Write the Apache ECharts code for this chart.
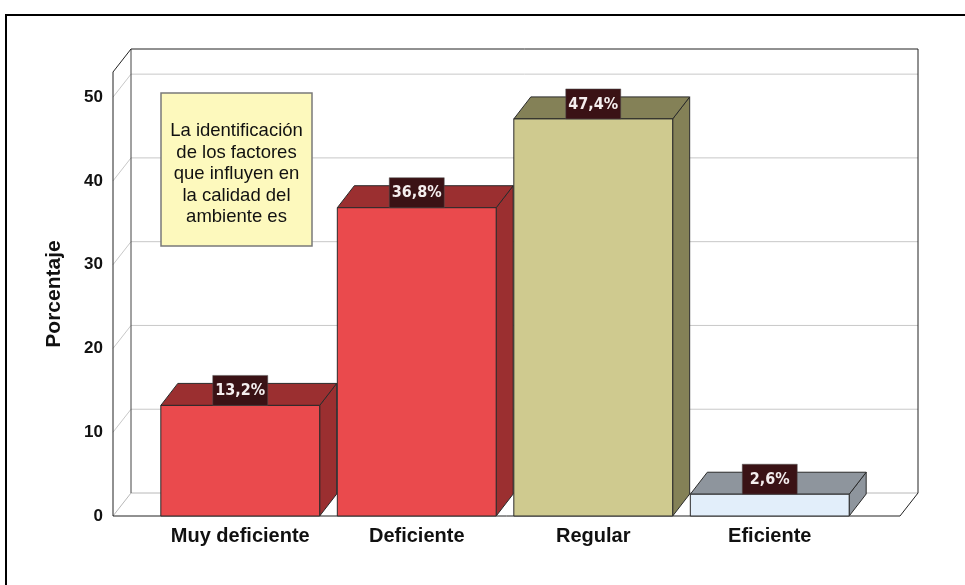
<!DOCTYPE html>
<html>
<head>
<meta charset="utf-8">
<script src="https://cdn.jsdelivr.net/npm/echarts@6/dist/echarts.min.js"></script>
<style>
  html, body { margin: 0; padding: 0; background: #fff; }
  #chart { width: 965px; height: 585px; }
</style>
</head>
<body>
<div id="chart"></div>
<script>
// datos
const categories = ['Muy deficiente', 'Deficiente', 'Regular', 'Eficiente'];
const percentages = [13.2, 36.8, 47.4, 2.6];
const yTicks = [0, 10, 20, 30, 40, 50];
const frontColors = ['#ea4a4d', '#ea4a4d', '#cfca8f', '#e2eefa'];
const shadeColors = ['#9b2f30', '#9b2f30', '#848157', '#8e959d'];
const boxText = 'La identificación\nde los factores\nque influyen en\nla calidad del\nambiente es';

const chart = echarts.init(document.getElementById('chart'));

const FONT = 'Liberation Sans, Arial, sans-serif';
const NARROW = "'Liberation Sans Narrow', 'DejaVu Sans Condensed', 'Arial Narrow', sans-serif";
// desplazamiento 3D
const bdx = 17, bdy = -22;   // barras
const fdx = 18, fdy = -23;   // paredes

function renderFrame(params, api) {
  const cs = params.coordSys;
  const left = cs.x - 39, right = cs.x + cs.width + 42;
  const yBase = api.coord([0, 0])[1];
  const yTop = cs.y;
  const ch = [];
  const line = (x1, y1, x2, y2, color, w) => ch.push({
    type: 'line', shape: { x1, y1, x2, y2 },
    style: { stroke: color, lineWidth: w || 1 }
  });
  // gridlines on back wall + left wall
  yTicks.forEach(v => {
    if (v === 0) return;
    const y = api.coord([0, v])[1];
    line(left, y, left + fdx, y + fdy, '#c8c8c8');
    line(left + fdx, y + fdy, right + fdx, y + fdy, '#c8c8c8');
  });
  // back floor
  line(left + fdx, yBase + fdy, right + fdx, yBase + fdy, '#b8b8b8');
  line(left, yBase, left + fdx, yBase + fdy, '#b8b8b8');
  // back wall edges
  line(left + fdx, yTop + fdy, right + fdx, yTop + fdy, '#222');
  line(right + fdx, yTop + fdy, right + fdx, yBase + fdy, '#222');
  line(left + fdx, yTop + fdy, left + fdx, yBase + fdy, '#444');
  // left wall front edge
  line(left, yTop, left, yBase, '#222');
  line(left, yTop, left + fdx, yTop + fdy, '#222');
  // front floor
  line(left, yBase, right, yBase, '#222');
  line(right, yBase, right + fdx, yBase + fdy, '#222');
  return { type: 'group', children: ch };
}

function renderBar(params, api) {
  const idx = params.dataIndex;
  const cat = api.value(0), val = api.value(1);
  const base = api.coord([cat, 0]);
  const top = api.coord([cat, val]);
  const w = api.size([1, 0])[0] * 0.9;
  const x0 = top[0] - w / 2, x1 = top[0] + w / 2;
  const y0 = top[1], yb = base[1];
  const edge = { stroke: '#2a2a2a', lineWidth: 1 };
  const label = val.toFixed(1).replace('.', ',') + '%';
  return {
    type: 'group',
    children: [
      { type: 'polygon', shape: { points: [[x1, y0], [x1 + bdx, y0 + bdy], [x1 + bdx, yb + bdy], [x1, yb]] },
        style: Object.assign({ fill: shadeColors[idx] }, edge) },
      { type: 'polygon', shape: { points: [[x0, y0], [x0 + bdx, y0 + bdy], [x1 + bdx, y0 + bdy], [x1, y0]] },
        style: Object.assign({ fill: shadeColors[idx] }, edge) },
      { type: 'rect', shape: { x: x0, y: y0, width: w, height: yb - y0 },
        style: Object.assign({ fill: frontColors[idx] }, edge) },
      { type: 'rect', shape: { x: top[0] - 27.5, y: y0 - 30, width: 55, height: 30 },
        style: { fill: '#3a1215', stroke: '#555', lineWidth: 0.5 } },
      { type: 'text', x: top[0], y: y0 - 14.5,
        style: { text: label, fill: '#f4eeee', font: 'bold 16px ' + NARROW, align: 'center', verticalAlign: 'middle' } }
    ]
  };
}

const option = {
  animation: false,
  backgroundColor: '#fff',
  grid: { left: 152, top: 72, width: 706, bottom: 69 },
  xAxis: {
    type: 'category',
    data: categories,
    axisLine: { show: false },
    axisTick: { show: false },
    axisLabel: { interval: 0, hideOverlap: false, color: '#111', fontFamily: FONT, fontWeight: 'bold', fontSize: 20, margin: 10 }
  },
  yAxis: {
    type: 'value',
    min: 0,
    max: 53,
    interval: 10,
    name: 'Porcentaje',
    nameLocation: 'middle',
    nameGap: 87,
    nameRotate: 90,
    nameTextStyle: { color: '#111', fontFamily: FONT, fontWeight: 'bold', fontSize: 21 },
    axisLine: { show: false },
    axisTick: { show: false },
    splitLine: { show: false },
    axisLabel: {
      color: '#111', fontFamily: FONT, fontWeight: 'bold', fontSize: 17, margin: 49,
      showMaxLabel: false,
      formatter: v => (yTicks.indexOf(v) >= 0 ? String(v) : '')
    }
  },
  graphic: [
    { type: 'rect', shape: { x: 6, y: 15, width: 1000, height: 1000 },
      style: { fill: 'none', stroke: '#000', lineWidth: 2 }, z: 100 },
    { type: 'rect', shape: { x: 161, y: 93, width: 151, height: 153 },
      style: { fill: '#fdf9bd', stroke: '#7a7a7a', lineWidth: 1.5 }, z: 50 },
    { type: 'text', x: 236.5, y: 174,
      style: { text: boxText, font: '18.5px ' + FONT, fill: '#111', align: 'center', verticalAlign: 'middle', lineHeight: 21.5 },
      z: 51 }
  ],
  series: [
    { type: 'custom', data: [[0, 0]], renderItem: renderFrame, z: 1, silent: true },
    { type: 'custom', data: percentages.map((v, i) => [i, v]), renderItem: renderBar, z: 5,
      encode: { x: 0, y: 1 } }
  ]
};

chart.setOption(option);
</script>
</body>
</html>
